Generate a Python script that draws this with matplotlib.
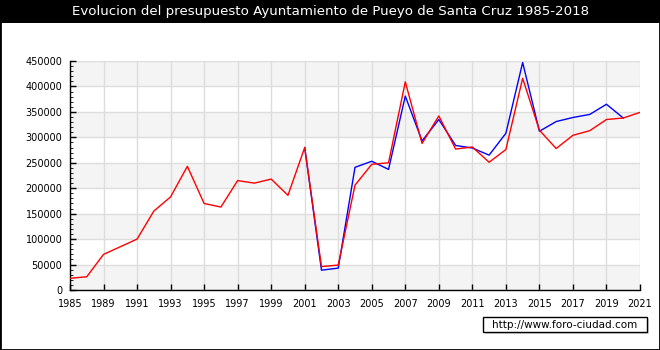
import matplotlib
matplotlib.use('Agg')
import matplotlib.pyplot as plt
from matplotlib.patches import Rectangle

# categorias (una por ano disponible); etiqueta solo cada 2
years = [1985, 1987] + list(range(1989, 2022))

# presupuesto (rojo) y liquidacion (azul), en euros
red_values = [23000, 26000, 70000, 85000, 100000, 155000, 183000, 243000,
              170000, 163000, 215000, 210000, 218000, 186000, 280000,
              46000, 49000, 206000, 247000, 250000, 409000, 288000, 342000,
              277000, 281000, 251000, 276000, 416000, 314000, 278000,
              304000, 313000, 335000, 338000, 349000]
blue_start = 14
blue_values = [280000, 39000, 43000, 241000, 253000, 237000, 381000, 293000,
               335000, 284000, 279000, 265000, 308000, 447000, 312000,
               331000, 339000, 345000, 365000, 338000]

y_ticks = list(range(0, 450001, 50000))

W, H = 660, 350
fig = plt.figure(figsize=(W / 100, H / 100), dpi=100)

# barra de titulo y borde
fig.patches.append(Rectangle((0, 1 - 23 / H), 1, 23 / H, transform=fig.transFigure,
                             facecolor='black', edgecolor='none', zorder=0))
fig.patches.append(Rectangle((0, 0), 1, 1, transform=fig.transFigure,
                             facecolor='none', edgecolor='black', linewidth=2, zorder=5))
fig.text(0.5, 1 - 12 / H, 'Evolucion del presupuesto Ayuntamiento de Pueyo de Santa Cruz 1985-2018',
         color='white', ha='center', va='center', fontsize=9.6)

ax = fig.add_axes([70 / W, (H - 290) / H, 570 / W, 229 / H])
ax.set_facecolor('white')

# bandas alternas
for i, lo in enumerate(y_ticks[:-1]):
    if i % 2 == 0:
        ax.axhspan(lo, lo + 50000, color='#f4f4f4', zorder=0, linewidth=0)

x_idx = list(range(len(years)))
ax.set_xlim(0, len(years) - 1)
ax.set_ylim(0, 450000)
ax.set_xticks(x_idx[::2])
ax.set_xticklabels([str(y) for y in years[::2]], fontsize=7)
ax.set_yticks(y_ticks)
ax.set_yticklabels([str(v) for v in y_ticks], fontsize=7)
ax.set_yticks(range(0, 450001, 10000), minor=True)
ax.grid(True, color='#dddddd', linewidth=1, zorder=1)
ax.set_axisbelow(True)

ax.tick_params(axis='both', direction='in', length=4, width=1)
ax.tick_params(axis='y', which='minor', direction='in', length=2)
ax.tick_params(axis='y', pad=5.5)
ax.tick_params(axis='x', pad=6.5)
for s in ['top', 'right']:
    ax.spines[s].set_visible(False)
ax.spines['left'].set_linewidth(1)
ax.spines['bottom'].set_linewidth(1)

ax.plot(x_idx[blue_start:blue_start + len(blue_values)], blue_values,
        color='#0000ff', linewidth=1, zorder=3)
ax.plot(x_idx, red_values, color='#ff0000', linewidth=1, zorder=4)

# marca de agua (caja con sombra)
fig.patches.append(Rectangle((485 / W, (H - 334) / H), 164 / W, 15 / H,
                             transform=fig.transFigure, facecolor='#d8d8d8',
                             edgecolor='none', zorder=2))
fig.patches.append(Rectangle((483 / W, (H - 332) / H), 164 / W, 15 / H,
                             transform=fig.transFigure, facecolor='white',
                             edgecolor='black', linewidth=1, zorder=3))
fig.text(565 / W, (H - 324.5) / H, 'http://www.foro-ciudad.com', ha='center', va='center',
         fontsize=7.5, zorder=4)

fig.savefig('out.png', dpi=100)
